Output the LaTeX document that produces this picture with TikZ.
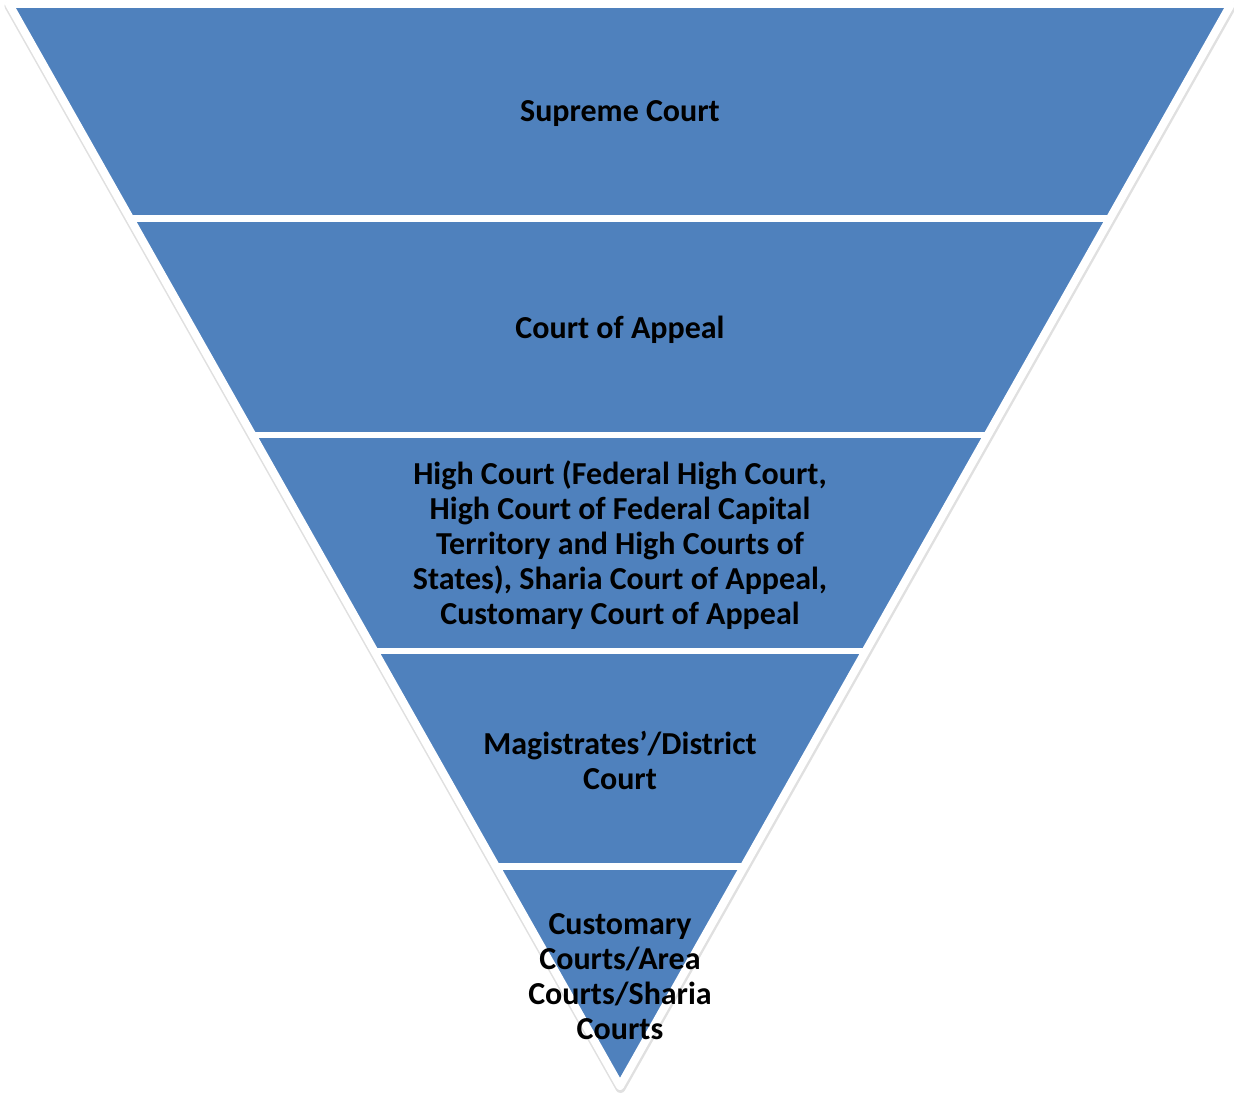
\documentclass[tikz,border=0pt]{standalone}
\usepackage{fontspec}
\setmainfont{Carlito}
\usepackage{tikz}
\usetikzlibrary{backgrounds}

\definecolor{courtblue}{HTML}{4F81BD}

\begin{document}
\begin{tikzpicture}[x=1pt,y=-1pt,thick]

			\tikzstyle{every node}=[font=\bfseries\fontsize{32}{35}\selectfont, align=center, text=black]

			\def\pyramid{(9,4) -- (1231,4) -- (620,1086) -- cycle}

			\useasboundingbox (0,0) rectangle (1234,1094);

			% soft shadow, blue body, white gaps and rim
			\draw[black!12,line width=10pt,line join=round,shift={(0.5,2)}] \pyramid;
			\fill[courtblue] \pyramid;
			\begin{scope}
			\clip \pyramid;
			\foreach \y in {218.5,435,651,866.5}
				\draw[white,line width=6.5pt] (0,\y) -- (1234,\y);
			\end{scope}
			\draw[white,line width=8pt,line join=round] \pyramid;

			\node (supreme) at (620,114) {Supreme Court};
			\node (appeal) at (620,330) {Court of Appeal};
			\node (high) at (620,545) {High Court (Federal High Court,\\High Court of Federal Capital\\Territory and High Courts of\\States), Sharia Court of Appeal,\\Customary Court of Appeal};
			\node (magistrate) at (620,760) {Magistrates'/District\\Court};
			\node (customary) at (620,977) {Customary\\Courts/Area\\Courts/Sharia\\Courts};
			\end{tikzpicture}
\end{document}
